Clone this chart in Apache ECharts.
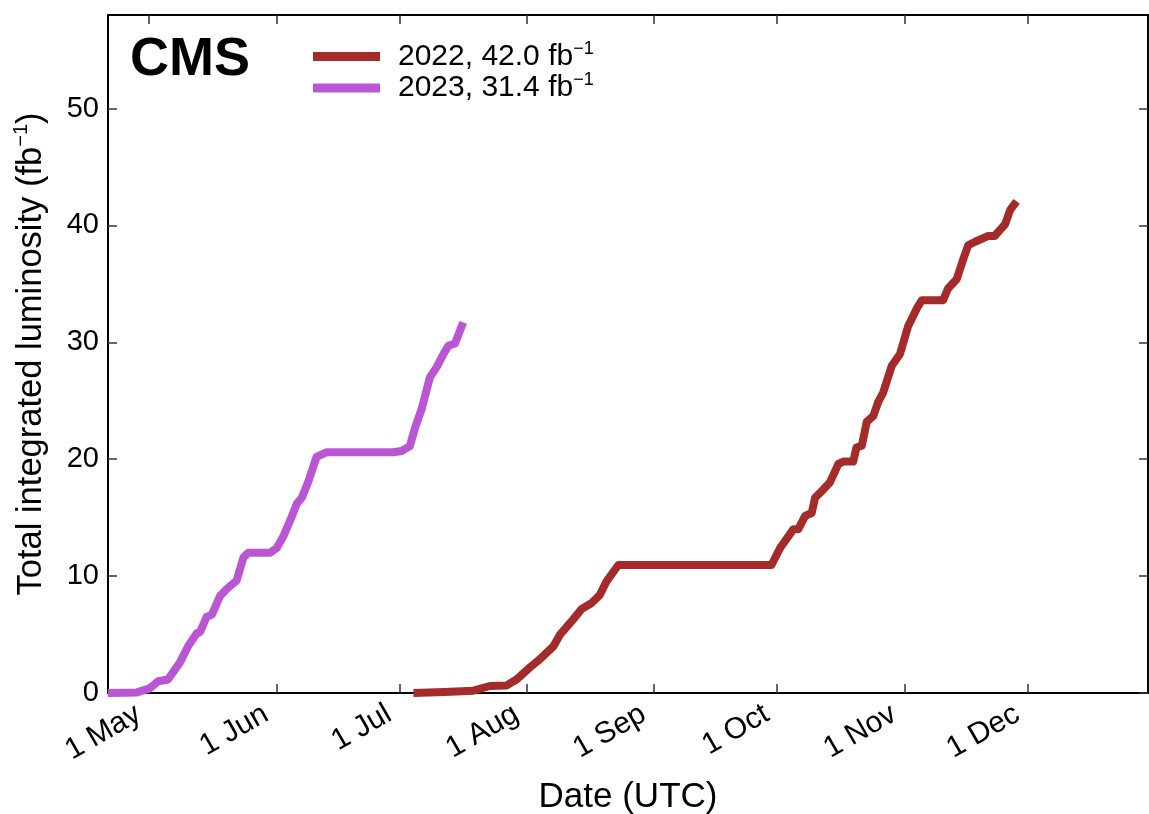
<!DOCTYPE html>
<html>
<head>
<meta charset="utf-8">
<script src="https://cdn.jsdelivr.net/npm/echarts@6/dist/echarts.min.js"></script>
<style>
  html, body { margin: 0; padding: 0; background: #fff; }
  #lumi-chart { width: 1149px; height: 814px; }
</style>
</head>
<body>
<div id="lumi-chart"></div>
<script>
// x values are day of year (1 Jan = 0), both years drawn on one calendar
var monthStarts = [120, 151, 181, 212, 243, 273, 304, 334];
var monthLabels = ['1 May', '1 Jun', '1 Jul', '1 Aug', '1 Sep', '1 Oct', '1 Nov', '1 Dec'];
var yTicks = [0, 10, 20, 30, 40, 50];

var years = ['2022', '2023'];
var totals = ['42.0', '31.4'];
var colors = ['#a52a2a', '#ba55d3'];

var days2022 = [184.4, 192.0, 199.0, 203.0, 207.1, 209.5, 212.8, 215.2, 218.5, 220.1, 223.3, 225.4,
    227.8, 229.8, 231.5, 234.3, 271.6, 273.7, 276.9, 278.1, 279.8, 281.4, 282.2, 284.2, 285.8,
    287.9, 289.1, 291.5, 292.3, 293.6, 294.8, 296.4, 297.6, 298.8, 300.9, 302.9, 304.9, 307.0,
    308.2, 313.4, 314.6, 316.7, 318.3, 319.5, 321.2, 324.4, 326.0, 327.2, 328.5, 329.7, 331.3];
var lumi2022 = [0, 0.08, 0.2, 0.6, 0.65, 1.15, 2.2, 2.9, 4.0, 5.0, 6.3, 7.2,
    7.7, 8.4, 9.6, 10.95, 10.95, 12.4, 14.0, 14.0, 15.15, 15.4, 16.7, 17.4, 18.0,
    19.6, 19.8, 19.8, 21.0, 21.15, 23.2, 23.7, 24.9, 25.7, 28.0, 29.0, 31.4, 32.9,
    33.6, 33.6, 34.6, 35.4, 37.1, 38.3, 38.6, 39.1, 39.1, 39.6, 40.1, 41.3, 42.05];

var days2023 = [110.0, 117.0, 120.2, 122.2, 124.6, 126.3, 127.5, 129.5, 131.6, 132.4, 134.0, 135.3,
    137.3, 138.9, 141.3, 143.0, 144.2, 149.5, 151.1, 152.7, 154.3, 156.0, 157.2, 158.8, 160.8,
    163.3, 179.5, 181.5, 183.5, 184.8, 186.4, 188.4, 190.1, 191.7, 192.9, 194.5, 195.3, 196.5];
var lumi2023 = [0, 0.05, 0.4, 1.0, 1.15, 2.0, 2.6, 4.0, 5.1, 5.2, 6.5, 6.7,
    8.3, 8.9, 9.6, 11.6, 12.0, 12.0, 12.4, 13.4, 14.7, 16.2, 16.7, 18.1, 20.2,
    20.6, 20.6, 20.7, 21.1, 22.7, 24.3, 27.0, 27.9, 29.0, 29.7, 29.9, 30.6, 31.7];

var fontFamily = '"Liberation Sans", Arial, Helvetica, sans-serif';

function pairs(xs, ys) {
    var out = [];
    for (var i = 0; i < xs.length; i++) {
        out.push([xs[i], ys[i]]);
    }
    return out;
}

var lumi_chart = echarts.init(document.getElementById('lumi-chart'));

var frameLine = { show: true, onZero: false, lineStyle: { color: '#000', width: 2 } };
var frameTick = { show: true, inside: true, length: 9, lineStyle: { color: '#333', width: 1.5 } };

var options = {
    animation: false,
    backgroundColor: '#fff',
    textStyle: { fontFamily: fontFamily },
    title: {
        text: 'CMS',
        left: 125,
        top: 28,
        textStyle: { fontSize: 54, fontWeight: 'bold', color: '#000', fontFamily: fontFamily }
    },
    legend: {
        orient: 'vertical',
        left: 313,
        top: 40,
        padding: 0,
        itemGap: 0,
        itemWidth: 67,
        itemHeight: 9,
        icon: 'rect',
        data: years,
        formatter: function (name) {
            return '{a|' + name + ', ' + totals[years.indexOf(name)] + ' fb}{s|\u22121}';
        },
        textStyle: {
            color: '#000',
            fontFamily: fontFamily,
            padding: [0, 0, 0, 13],
            rich: {
                a: { fontSize: 30, lineHeight: 33, color: '#000', fontFamily: fontFamily },
                s: { fontSize: 18, lineHeight: 18, verticalAlign: 'top', color: '#000', fontFamily: fontFamily }
            }
        }
    },
    grid: { left: 108, right: 1, top: 15, bottom: 121, containLabel: false, outerBoundsMode: 'none' },
    xAxis: [
        {
            type: 'value',
            position: 'bottom',
            min: 110,
            max: 363.3,
            name: 'Date (UTC)',
            nameLocation: 'middle',
            nameGap: 87,
            nameTextStyle: { fontSize: 35, color: '#000', fontFamily: fontFamily },
            axisLine: frameLine,
            axisTick: Object.assign({ customValues: monthStarts }, frameTick),
            axisLabel: {
                customValues: monthStarts,
                rotate: 30,
                margin: 13,
                padding: [0, 12, 0, 0],
                fontSize: 30,
                color: '#000',
                fontFamily: fontFamily,
                formatter: function (v) {
                    return monthLabels[monthStarts.indexOf(v)];
                }
            },
            splitLine: { show: false }
        },
        {
            type: 'value',
            position: 'top',
            min: 110,
            max: 363.3,
            axisLine: frameLine,
            axisTick: Object.assign({ customValues: monthStarts }, frameTick),
            axisLabel: { show: false },
            splitLine: { show: false }
        }
    ],
    yAxis: [
        {
            type: 'value',
            position: 'left',
            min: 0,
            max: 58,
            name: '{a|Total integrated luminosity (fb}{s|\u22121}{a|)}',
            nameLocation: 'middle',
            nameGap: 57,
            nameTextStyle: {
                color: '#000',
                fontFamily: fontFamily,
                rich: {
                    a: { fontSize: 34.5, lineHeight: 40, color: '#000', fontFamily: fontFamily },
                    s: { fontSize: 20, lineHeight: 20, verticalAlign: 'top', color: '#000', fontFamily: fontFamily }
                }
            },
            axisLine: frameLine,
            axisTick: Object.assign({ customValues: yTicks }, frameTick),
            axisLabel: {
                customValues: yTicks,
                margin: 9,
                fontSize: 29,
                color: '#000',
                fontFamily: fontFamily
            },
            splitLine: { show: false }
        },
        {
            type: 'value',
            position: 'right',
            min: 0,
            max: 58,
            axisLine: frameLine,
            axisTick: Object.assign({ customValues: yTicks }, frameTick),
            axisLabel: { show: false },
            splitLine: { show: false }
        }
    ],
    series: [
        {
            name: years[0],
            type: 'line',
            showSymbol: false,
            color: colors[0],
            lineStyle: { width: 8, color: colors[0], join: 'round' },
            data: pairs(days2022, lumi2022)
        },
        {
            name: years[1],
            type: 'line',
            showSymbol: false,
            color: colors[1],
            lineStyle: { width: 8, color: colors[1], join: 'round' },
            data: pairs(days2023, lumi2023)
        }
    ]
};

lumi_chart.setOption(options);
</script>
</body>
</html>
